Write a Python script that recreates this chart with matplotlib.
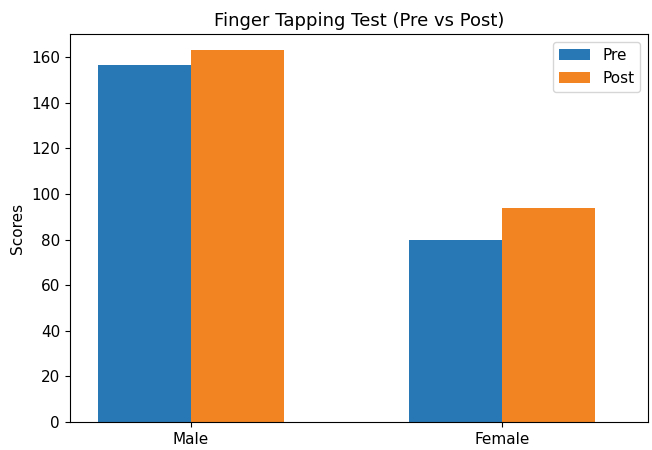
import numpy as np
import matplotlib
matplotlib.use("Agg")
import matplotlib.pyplot as plt

groups = ["Male", "Female"]
pre_scores = [156.5, 80]
post_scores = [163, 94]

x = np.arange(len(groups))
width = 0.3

fig = plt.figure(figsize=(6.52, 4.5), dpi=100)
ax = fig.add_axes([0.107, 0.062, 0.887, 0.862])

ax.bar(x - width / 2, pre_scores, width, label="Pre", color="#2878b5")
ax.bar(x + width / 2, post_scores, width, label="Post", color="#f28522")

ax.set_xticks(x)
ax.set_xticklabels(groups, fontsize=11)
ax.tick_params(axis="y", labelsize=11)
ax.set_xlim(-0.39, 1.47)
ax.set_ylim(0, 170)
ax.set_ylabel("Scores", fontsize=11)
ax.set_title("Finger Tapping Test (Pre vs Post)", fontsize=13)
ax.legend(loc="upper right", fontsize=11)

fig.savefig("out.png", dpi=100)
